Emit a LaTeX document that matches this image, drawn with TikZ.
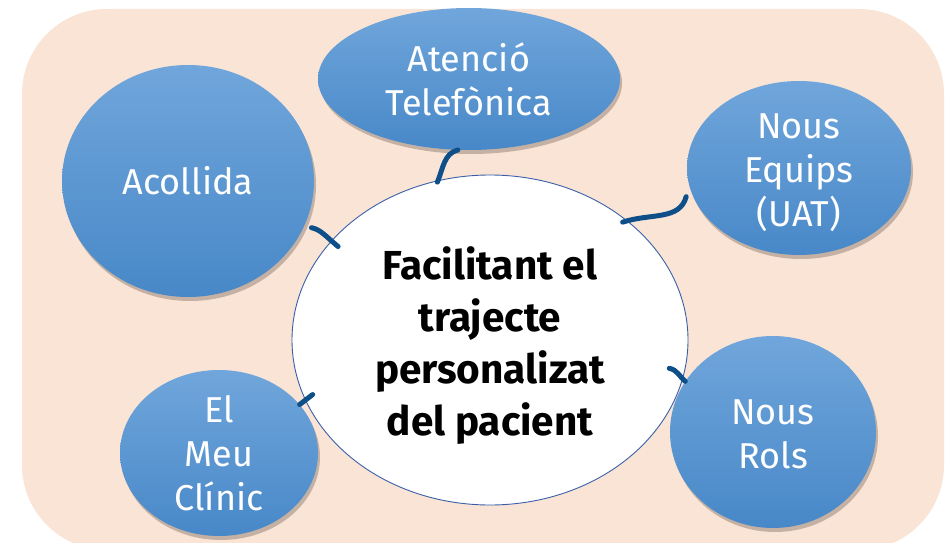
\documentclass[tikz,border=0pt]{standalone}
\usepackage{fontspec}
\setmainfont{Fira Sans}
\usetikzlibrary{shapes.geometric,shadows,calc}
\definecolor{bgpeach}{HTML}{FAE4D6}
\definecolor{bltop}{HTML}{70A6DB}
\definecolor{blbot}{HTML}{4888C8}
\definecolor{connblue}{HTML}{0E4F8A}
\definecolor{ctrline}{HTML}{3A5FA8}
\tikzset{
  bubble/.style={ellipse, inner sep=0pt, top color=bltop, bottom color=blbot, draw=none,
    text=white, align=center, font=\fontsize{36}{44}\selectfont,
    drop shadow={shadow xshift=2pt, shadow yshift=-4pt, opacity=0.25, fill=black!80!brown}},
  bubbletext/.style={text=white, align=center, inner sep=0pt, font=\fontsize{36}{44}\selectfont},
  centre/.style={ellipse, inner sep=0pt, fill=white, draw=ctrline, line width=0.9pt},
  centretext/.style={text=black, align=center, inner sep=0pt, font=\bfseries\fontsize{40.5}{52}\selectfont},
  conn/.style={draw=connblue, line width=5pt, line cap=round}
}
\begin{document}
\begin{tikzpicture}[x=1pt,y=1pt]
\useasboundingbox (0,0) rectangle (945,542);
\fill[bgpeach, rounded corners=85pt] (22,533) rectangle (944,-8);
\node[centre, minimum width=396pt, minimum height=330pt] (ctr) at (490,202) {};
\node[centretext] (ctrtxt) at (490,196) {Facilitant el\\trajecte\\personalizat\\del pacient};
\node[bubble, minimum width=252pt, minimum height=232pt] (aco) at (188,361) {Acollida};
\node[bubble, minimum width=302pt, minimum height=142pt] (ate) at (469,463) {Atenció\\Telefònica};
\node[bubble, minimum width=224pt, minimum height=174pt] (equ) at (799,374) {};
\node[bubbletext] (equtxt) at ($(equ.center)+(0,-5)$) {Nous\\Equips\\(UAT)};
\node[bubble, minimum width=198pt, minimum height=166pt] (meu) at (219,89) {El\\Meu\\Clínic};
\node[bubble, minimum width=206pt, minimum height=192pt] (rol) at (773,110) {};
\node[bubbletext] (roltxt) at ($(rol.center)+(0,-2)$) {Nous\\Rols};
\draw[conn, shorten >=-2pt] (ate.261) to[out=195, in=68] (ctr.108);
\draw[conn, shorten >=-9pt] ($(aco.-21)+(7,-2)$) to[out=-12, in=140] (ctr.148);
\draw[conn, shorten >=-5pt] ($(equ.194)+(-6,-2)$) to[out=-105, in=18] (ctr.41);
\draw[conn] (meu.31) -- ++(13,10);
\draw[conn] (rol.150) to[out=140, in=-10] ++(-16,13);
\end{tikzpicture}
\end{document}
